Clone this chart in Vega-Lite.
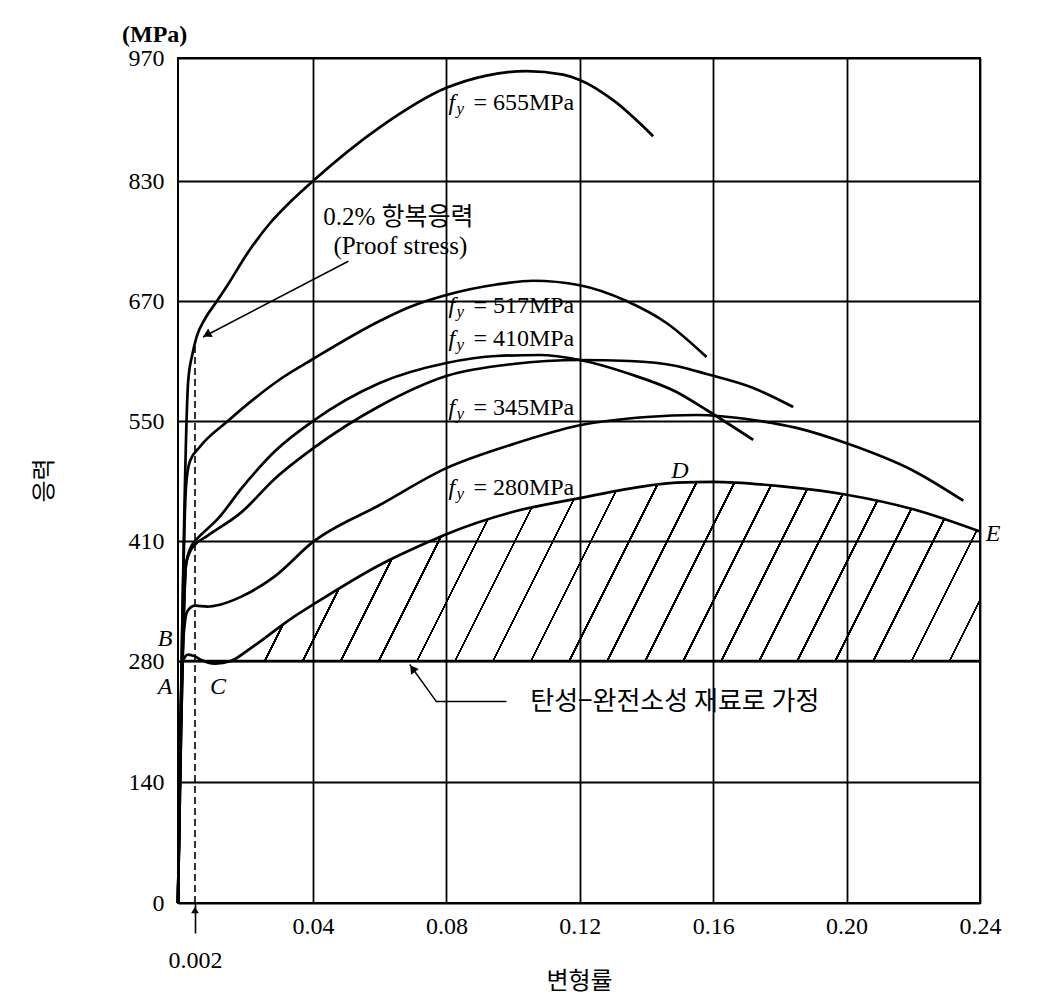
{
  "$schema": "https://vega.github.io/schema/vega-lite/v6.json",
  "width": 802,
  "height": 845,
  "autosize": {"type": "none"},
  "padding": {"left": 178, "top": 58, "right": 78, "bottom": 99},
  "background": "white",
  "title": {"text": "(MPa)", "anchor": "start", "frame": "group", "dx": -56, "offset": -1, "font": "Liberation Serif", "fontSize": 24, "fontWeight": "bold", "color": "black"},
  "config": {
    "view": {"stroke": "black", "strokeWidth": 2},
    "axis": {"domain": false, "gridColor": "black", "gridWidth": 1.8, "gridOpacity": 1, "labelColor": "black", "titleColor": "black"}
  },
  "datasets": {
    "curves": [
      {"s": "655", "x": 0, "y": 0}, {"s": "655", "x": 0.0012, "y": 590}, {"s": "655", "x": 0.0017, "y": 617}, {"s": "655", "x": 0.0025, "y": 634}, {"s": "655", "x": 0.0052, "y": 652}, {"s": "655", "x": 0.0091, "y": 670}, {"s": "655", "x": 0.0123, "y": 690}, {"s": "655", "x": 0.0191, "y": 735}, {"s": "655", "x": 0.0262, "y": 774}, {"s": "655", "x": 0.0329, "y": 803}, {"s": "655", "x": 0.04, "y": 830}, {"s": "655", "x": 0.06, "y": 891}, {"s": "655", "x": 0.08, "y": 936}, {"s": "655", "x": 0.092, "y": 950}, {"s": "655", "x": 0.104, "y": 955}, {"s": "655", "x": 0.115, "y": 951}, {"s": "655", "x": 0.12, "y": 945}, {"s": "655", "x": 0.13, "y": 922}, {"s": "655", "x": 0.142, "y": 881},
      {"s": "517", "x": 0, "y": 0}, {"s": "517", "x": 0.00095, "y": 475}, {"s": "517", "x": 0.0014, "y": 503}, {"s": "517", "x": 0.0036, "y": 520}, {"s": "517", "x": 0.0126, "y": 550}, {"s": "517", "x": 0.03, "y": 593}, {"s": "517", "x": 0.04, "y": 612}, {"s": "517", "x": 0.06, "y": 650}, {"s": "517", "x": 0.069, "y": 664}, {"s": "517", "x": 0.08, "y": 678}, {"s": "517", "x": 0.095, "y": 692}, {"s": "517", "x": 0.106, "y": 697}, {"s": "517", "x": 0.12, "y": 691}, {"s": "517", "x": 0.134, "y": 670}, {"s": "517", "x": 0.146, "y": 648}, {"s": "517", "x": 0.158, "y": 614},
      {"s": "410a", "x": 0, "y": 0}, {"s": "410a", "x": 0.00095, "y": 385}, {"s": "410a", "x": 0.0015, "y": 403}, {"s": "410a", "x": 0.002, "y": 410}, {"s": "410a", "x": 0.003, "y": 414}, {"s": "410a", "x": 0.0094, "y": 436}, {"s": "410a", "x": 0.0171, "y": 472}, {"s": "410a", "x": 0.0278, "y": 515}, {"s": "410a", "x": 0.04, "y": 550}, {"s": "410a", "x": 0.06, "y": 588}, {"s": "410a", "x": 0.08, "y": 608}, {"s": "410a", "x": 0.095, "y": 615}, {"s": "410a", "x": 0.108, "y": 616}, {"s": "410a", "x": 0.12, "y": 611}, {"s": "410a", "x": 0.135, "y": 597}, {"s": "410a", "x": 0.149, "y": 579}, {"s": "410a", "x": 0.158, "y": 561}, {"s": "410a", "x": 0.172, "y": 528},
      {"s": "410b", "x": 0, "y": 0}, {"s": "410b", "x": 0.00095, "y": 385}, {"s": "410b", "x": 0.0015, "y": 400}, {"s": "410b", "x": 0.002, "y": 406}, {"s": "410b", "x": 0.006, "y": 416}, {"s": "410b", "x": 0.0171, "y": 444}, {"s": "410b", "x": 0.0278, "y": 483}, {"s": "410b", "x": 0.04, "y": 518}, {"s": "410b", "x": 0.06, "y": 565}, {"s": "410b", "x": 0.08, "y": 595}, {"s": "410b", "x": 0.1, "y": 607}, {"s": "410b", "x": 0.12, "y": 611}, {"s": "410b", "x": 0.135, "y": 610}, {"s": "410b", "x": 0.149, "y": 605}, {"s": "410b", "x": 0.158, "y": 597}, {"s": "410b", "x": 0.172, "y": 583}, {"s": "410b", "x": 0.184, "y": 564},
      {"s": "345", "x": 0, "y": 0}, {"s": "345", "x": 0.0006, "y": 300}, {"s": "345", "x": 0.0011, "y": 334}, {"s": "345", "x": 0.002, "y": 340}, {"s": "345", "x": 0.006, "y": 339}, {"s": "345", "x": 0.01, "y": 341}, {"s": "345", "x": 0.0171, "y": 350}, {"s": "345", "x": 0.0278, "y": 372}, {"s": "345", "x": 0.04, "y": 409}, {"s": "345", "x": 0.06, "y": 452}, {"s": "345", "x": 0.08, "y": 495}, {"s": "345", "x": 0.1, "y": 523}, {"s": "345", "x": 0.12, "y": 545}, {"s": "345", "x": 0.14, "y": 554}, {"s": "345", "x": 0.155, "y": 556}, {"s": "345", "x": 0.172, "y": 551}, {"s": "345", "x": 0.185, "y": 542}, {"s": "345", "x": 0.2, "y": 524}, {"s": "345", "x": 0.22, "y": 492}, {"s": "345", "x": 0.235, "y": 457},
      {"s": "280", "x": 0, "y": 0}, {"s": "280", "x": 0.00056, "y": 280}, {"s": "280", "x": 0.0012, "y": 287}, {"s": "280", "x": 0.002, "y": 285}, {"s": "280", "x": 0.004, "y": 281}, {"s": "280", "x": 0.0085, "y": 277}, {"s": "280", "x": 0.0135, "y": 280}, {"s": "280", "x": 0.02, "y": 294}, {"s": "280", "x": 0.033, "y": 326}, {"s": "280", "x": 0.04, "y": 341}, {"s": "280", "x": 0.06, "y": 384}, {"s": "280", "x": 0.074, "y": 408}, {"s": "280", "x": 0.08, "y": 418}, {"s": "280", "x": 0.099, "y": 443}, {"s": "280", "x": 0.12, "y": 460}, {"s": "280", "x": 0.149, "y": 478}, {"s": "280", "x": 0.16, "y": 479}, {"s": "280", "x": 0.18, "y": 474}, {"s": "280", "x": 0.2, "y": 464}, {"s": "280", "x": 0.22, "y": 447}, {"s": "280", "x": 0.24, "y": 421},
      {"s": "EPP", "x": 0, "y": 0}, {"s": "EPP", "x": 0.00056, "y": 280}, {"s": "EPP", "x": 0.24, "y": 280}
    ],
    "fy": [
      {"x": 0.08, "y": 919, "t": "= 655MPa"},
      {"x": 0.08, "y": 665, "t": "= 517MPa"},
      {"x": 0.08, "y": 632, "t": "= 410MPa"},
      {"x": 0.08, "y": 563, "t": "= 345MPa"},
      {"x": 0.08, "y": 472, "t": "= 280MPa"}
    ],
    "letters": [
      {"x": 0.15, "y": 492, "t": "D"},
      {"x": 0.2439, "y": 418, "t": "E"},
      {"x": -0.00153, "y": 304, "t": "B"},
      {"x": -0.00153, "y": 250, "t": "A"},
      {"x": 0.0094, "y": 250, "t": "C"}
    ],
    "notes": [
      {"x": 0.0656, "y": 782, "t": "0.2% 항복응력"},
      {"x": 0.0662, "y": 743, "t": "(Proof stress)"}
    ],
    "notesKr": [
      {"x": 0.1485, "y": 233, "t": "탄성−완전소성 재료로 가정"}
    ],
    "leaders": [
      {"g": "a", "x": 0.0046, "y": 634}, {"g": "a", "x": 0.0506, "y": 723},
      {"g": "b", "x": 0.069, "y": 276}, {"g": "b", "x": 0.077, "y": 233}, {"g": "b", "x": 0.098, "y": 233}
    ]
  },
  "layer": [
    {
      "data": {"name": "curves"},
      "transform": [{"filter": "datum.s == '280' && datum.x >= 0.0135"}],
      "mark": {
        "type": "area",
        "interpolate": "monotone",
        "fill": {
          "gradient": "linear", "x1": 0, "y1": 0, "x2": 1.1, "y2": 0.1315,
          "stops": [
            {"offset": 0, "color": "rgba(0,0,0,0)"},
            {"offset": 0.010, "color": "rgba(0,0,0,0)"}, {"offset": 0.010, "color": "black"}, {"offset": 0.0128, "color": "black"}, {"offset": 0.0128, "color": "rgba(0,0,0,0)"},
            {"offset": 0.0555, "color": "rgba(0,0,0,0)"}, {"offset": 0.0555, "color": "black"}, {"offset": 0.0583, "color": "black"}, {"offset": 0.0583, "color": "rgba(0,0,0,0)"},
            {"offset": 0.101, "color": "rgba(0,0,0,0)"}, {"offset": 0.101, "color": "black"}, {"offset": 0.1038, "color": "black"}, {"offset": 0.1038, "color": "rgba(0,0,0,0)"},
            {"offset": 0.1465, "color": "rgba(0,0,0,0)"}, {"offset": 0.1465, "color": "black"}, {"offset": 0.1493, "color": "black"}, {"offset": 0.1493, "color": "rgba(0,0,0,0)"},
            {"offset": 0.192, "color": "rgba(0,0,0,0)"}, {"offset": 0.192, "color": "black"}, {"offset": 0.1948, "color": "black"}, {"offset": 0.1948, "color": "rgba(0,0,0,0)"},
            {"offset": 0.2375, "color": "rgba(0,0,0,0)"}, {"offset": 0.2375, "color": "black"}, {"offset": 0.2403, "color": "black"}, {"offset": 0.2403, "color": "rgba(0,0,0,0)"},
            {"offset": 0.283, "color": "rgba(0,0,0,0)"}, {"offset": 0.283, "color": "black"}, {"offset": 0.2858, "color": "black"}, {"offset": 0.2858, "color": "rgba(0,0,0,0)"},
            {"offset": 0.3285, "color": "rgba(0,0,0,0)"}, {"offset": 0.3285, "color": "black"}, {"offset": 0.3313, "color": "black"}, {"offset": 0.3313, "color": "rgba(0,0,0,0)"},
            {"offset": 0.374, "color": "rgba(0,0,0,0)"}, {"offset": 0.374, "color": "black"}, {"offset": 0.3768, "color": "black"}, {"offset": 0.3768, "color": "rgba(0,0,0,0)"},
            {"offset": 0.4195, "color": "rgba(0,0,0,0)"}, {"offset": 0.4195, "color": "black"}, {"offset": 0.4223, "color": "black"}, {"offset": 0.4223, "color": "rgba(0,0,0,0)"},
            {"offset": 0.465, "color": "rgba(0,0,0,0)"}, {"offset": 0.465, "color": "black"}, {"offset": 0.4678, "color": "black"}, {"offset": 0.4678, "color": "rgba(0,0,0,0)"},
            {"offset": 0.5105, "color": "rgba(0,0,0,0)"}, {"offset": 0.5105, "color": "black"}, {"offset": 0.5133, "color": "black"}, {"offset": 0.5133, "color": "rgba(0,0,0,0)"},
            {"offset": 0.556, "color": "rgba(0,0,0,0)"}, {"offset": 0.556, "color": "black"}, {"offset": 0.5588, "color": "black"}, {"offset": 0.5588, "color": "rgba(0,0,0,0)"},
            {"offset": 0.6015, "color": "rgba(0,0,0,0)"}, {"offset": 0.6015, "color": "black"}, {"offset": 0.6043, "color": "black"}, {"offset": 0.6043, "color": "rgba(0,0,0,0)"},
            {"offset": 0.647, "color": "rgba(0,0,0,0)"}, {"offset": 0.647, "color": "black"}, {"offset": 0.6498, "color": "black"}, {"offset": 0.6498, "color": "rgba(0,0,0,0)"},
            {"offset": 0.6925, "color": "rgba(0,0,0,0)"}, {"offset": 0.6925, "color": "black"}, {"offset": 0.6953, "color": "black"}, {"offset": 0.6953, "color": "rgba(0,0,0,0)"},
            {"offset": 0.738, "color": "rgba(0,0,0,0)"}, {"offset": 0.738, "color": "black"}, {"offset": 0.7408, "color": "black"}, {"offset": 0.7408, "color": "rgba(0,0,0,0)"},
            {"offset": 0.7835, "color": "rgba(0,0,0,0)"}, {"offset": 0.7835, "color": "black"}, {"offset": 0.7863, "color": "black"}, {"offset": 0.7863, "color": "rgba(0,0,0,0)"},
            {"offset": 0.829, "color": "rgba(0,0,0,0)"}, {"offset": 0.829, "color": "black"}, {"offset": 0.8318, "color": "black"}, {"offset": 0.8318, "color": "rgba(0,0,0,0)"},
            {"offset": 0.8745, "color": "rgba(0,0,0,0)"}, {"offset": 0.8745, "color": "black"}, {"offset": 0.8773, "color": "black"}, {"offset": 0.8773, "color": "rgba(0,0,0,0)"},
            {"offset": 0.92, "color": "rgba(0,0,0,0)"}, {"offset": 0.92, "color": "black"}, {"offset": 0.9228, "color": "black"}, {"offset": 0.9228, "color": "rgba(0,0,0,0)"},
            {"offset": 0.9655, "color": "rgba(0,0,0,0)"}, {"offset": 0.9655, "color": "black"}, {"offset": 0.9683, "color": "black"}, {"offset": 0.9683, "color": "rgba(0,0,0,0)"},
            {"offset": 1, "color": "rgba(0,0,0,0)"}
          ]
        }
      },
      "encoding": {
        "x": {
          "field": "x", "type": "quantitative",
          "scale": {"domain": [0, 0.002, 0.04, 0.24], "range": [0, 17, 135, 802], "nice": false, "zero": false},
          "axis": {
            "values": [0.002, 0.04, 0.08, 0.12, 0.16, 0.2, 0.24],
            "title": "변형률", "titleFont": "Noto Sans CJK KR", "titleFontSize": 24, "titleFontWeight": "normal",
            "titleY": 78, "titleBaseline": "middle",
            "labelFont": "Liberation Serif", "labelFontSize": 24, "labelFlush": false, "labelOverlap": false,
            "labelExpr": "datum.value < 0.01 ? '0.002' : format(datum.value, '.2f')",
            "labelBaseline": "top",
            "labelPadding": {"expr": "datum.value < 0.01 ? 15 : 11"},
            "ticks": true, "tickColor": "black", "tickWidth": 1.6,
            "tickSize": {"expr": "datum.value < 0.01 ? 30 : 0"},
            "gridOpacity": {"expr": "datum.value < 0.01 ? 0 : 1"}
          }
        },
        "y": {
          "field": "y", "type": "quantitative",
          "scale": {"domain": [0, 140, 280, 410, 550, 670, 830, 970], "range": [845, 724, 603, 483, 363, 243, 123, 0], "nice": false, "zero": false},
          "axis": {
            "values": [0, 140, 280, 410, 550, 670, 830, 970],
            "title": "응력", "titleFont": "Noto Sans CJK KR", "titleFontSize": 24, "titleFontWeight": "normal",
            "titleX": -134, "titleY": 422, "titleAlign": "center", "titleBaseline": "middle", "titleAngle": -90,
            "labelFont": "Liberation Serif", "labelFontSize": 24, "labelPadding": 14, "labelOverlap": false, "labelFlush": false,
            "ticks": false
          }
        },
        "y2": {"datum": 280}
      }
    },
    {
      "data": {"values": [{}]},
      "mark": {"type": "rule", "strokeDash": [7, 4], "strokeWidth": 1.6, "color": "black"},
      "encoding": {"x": {"datum": 0.002}, "y": {"datum": 0}, "y2": {"datum": 630}}
    },
    {
      "data": {"name": "curves"},
      "mark": {"type": "line", "interpolate": "monotone", "strokeWidth": 2.7, "color": "black"},
      "encoding": {
        "x": {"field": "x", "type": "quantitative"},
        "y": {"field": "y", "type": "quantitative"},
        "detail": {"field": "s"}
      }
    },
    {
      "data": {"name": "leaders"},
      "mark": {"type": "line", "strokeWidth": 1.5, "color": "black"},
      "encoding": {
        "x": {"field": "x", "type": "quantitative"},
        "y": {"field": "y", "type": "quantitative"},
        "detail": {"field": "g"}
      }
    },
    {
      "data": {"values": [{}]},
      "mark": {"type": "point", "shape": "triangle", "filled": true, "color": "black", "size": 90, "angle": 242, "opacity": 1},
      "encoding": {"x": {"datum": 0.0062}, "y": {"datum": 637}}
    },
    {
      "data": {"values": [{}]},
      "mark": {"type": "point", "shape": "triangle", "filled": true, "color": "black", "size": 90, "angle": 324, "opacity": 1},
      "encoding": {"x": {"datum": 0.0701}, "y": {"datum": 270}}
    },
    {
      "data": {"values": [{}]},
      "mark": {"type": "point", "shape": "triangle-up", "filled": true, "color": "black", "size": 60, "yOffset": 7, "opacity": 1},
      "encoding": {"x": {"datum": 0.002}, "y": {"datum": 0}}
    },
    {
      "data": {"name": "fy"},
      "mark": {"type": "text", "text": "f", "align": "left", "baseline": "middle", "dx": 2, "font": "Liberation Serif", "fontSize": 24, "fontStyle": "italic", "color": "black"},
      "encoding": {"x": {"field": "x", "type": "quantitative"}, "y": {"field": "y", "type": "quantitative"}}
    },
    {
      "data": {"name": "fy"},
      "mark": {"type": "text", "text": "y", "align": "left", "baseline": "middle", "dx": 10, "dy": 6, "font": "Liberation Serif", "fontSize": 17, "fontStyle": "italic", "color": "black"},
      "encoding": {"x": {"field": "x", "type": "quantitative"}, "y": {"field": "y", "type": "quantitative"}}
    },
    {
      "data": {"name": "fy"},
      "mark": {"type": "text", "align": "left", "baseline": "middle", "dx": 27, "font": "Liberation Serif", "fontSize": 24, "color": "black"},
      "encoding": {"x": {"field": "x", "type": "quantitative"}, "y": {"field": "y", "type": "quantitative"}, "text": {"field": "t"}}
    },
    {
      "data": {"name": "letters"},
      "mark": {"type": "text", "align": "center", "baseline": "middle", "font": "Liberation Serif", "fontSize": 24, "fontStyle": "italic", "color": "black"},
      "encoding": {"x": {"field": "x", "type": "quantitative"}, "y": {"field": "y", "type": "quantitative"}, "text": {"field": "t"}}
    },
    {
      "data": {"name": "notes"},
      "mark": {"type": "text", "align": "center", "baseline": "middle", "font": "Liberation Serif, Noto Sans CJK KR", "fontSize": 25, "color": "black"},
      "encoding": {"x": {"field": "x", "type": "quantitative"}, "y": {"field": "y", "type": "quantitative"}, "text": {"field": "t"}}
    },
    {
      "data": {"name": "notesKr"},
      "mark": {"type": "text", "align": "center", "baseline": "middle", "font": "Noto Sans CJK KR", "fontSize": 26, "color": "black"},
      "encoding": {"x": {"field": "x", "type": "quantitative"}, "y": {"field": "y", "type": "quantitative"}, "text": {"field": "t"}}
    }
  ]
}
